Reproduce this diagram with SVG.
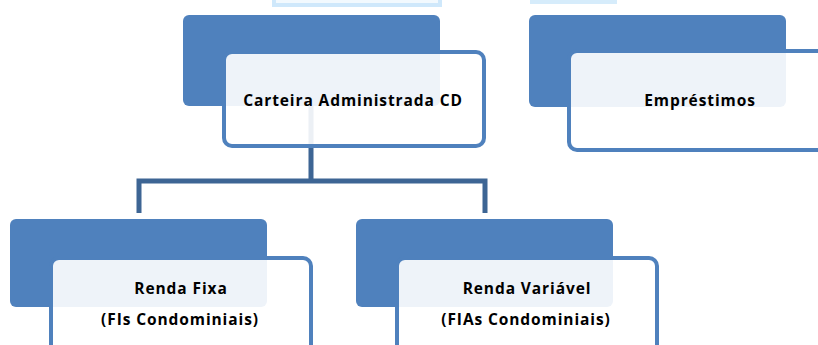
<svg xmlns="http://www.w3.org/2000/svg" width="818" height="345" viewBox="0 0 818 345">
<style>
.dark{fill:#4f81bd;}
.card{fill:#ffffff;fill-opacity:0.9;stroke:#4f81bd;stroke-width:4;}
.conn{fill:none;stroke:#3d6594;stroke-width:5;}
.lbl{font-family:"Open Sans","Liberation Sans",sans-serif;font-weight:bold;font-size:15.5px;letter-spacing:0.9px;fill:#000;text-anchor:middle;}
</style>
<rect width="818" height="345" fill="#ffffff"/>
<g id="top-strips">
<rect x="274" y="-20" width="166" height="25" fill="#f2f9fe" stroke="#cfe8fb" stroke-width="4"/>
<rect x="530" y="-10" width="87" height="14" fill="#d6ecfb"/>
</g>
<g id="node-carteira-back"><rect class="dark" x="183" y="15" width="257" height="91" rx="6"/></g>
<g id="node-emprestimos-back"><rect class="dark" x="529" y="15" width="257" height="92" rx="6"/></g>
<g id="node-rf-back"><rect class="dark" x="10" y="219" width="257" height="88" rx="6"/></g>
<g id="node-rv-back"><rect class="dark" x="356" y="219" width="257" height="88" rx="6"/></g>
<g id="connectors">
<path class="conn" d="M311 106 V181 M139 213 V181 H485 V213"/>
</g>
<g id="node-carteira">
<rect class="card" x="224" y="52" width="260" height="94" rx="8"/>
<text class="lbl" x="353" y="106">Carteira Administrada CD</text>
</g>
<g id="node-emprestimos">
<rect class="card" x="569" y="51" width="270" height="99" rx="8"/>
<text class="lbl" x="700" y="106">Empréstimos</text>
</g>
<g id="node-renda-fixa">
<rect class="card" x="51" y="258" width="260" height="110" rx="8"/>
<text class="lbl" x="181" y="294">Renda Fixa</text>
<text class="lbl" x="180" y="325">(FIs Condominiais)</text>
</g>
<g id="node-renda-variavel">
<rect class="card" x="397" y="258" width="260" height="110" rx="8"/>
<text class="lbl" x="527" y="294">Renda Variável</text>
<text class="lbl" x="526" y="325">(FIAs Condominiais)</text>
</g>
</svg>
